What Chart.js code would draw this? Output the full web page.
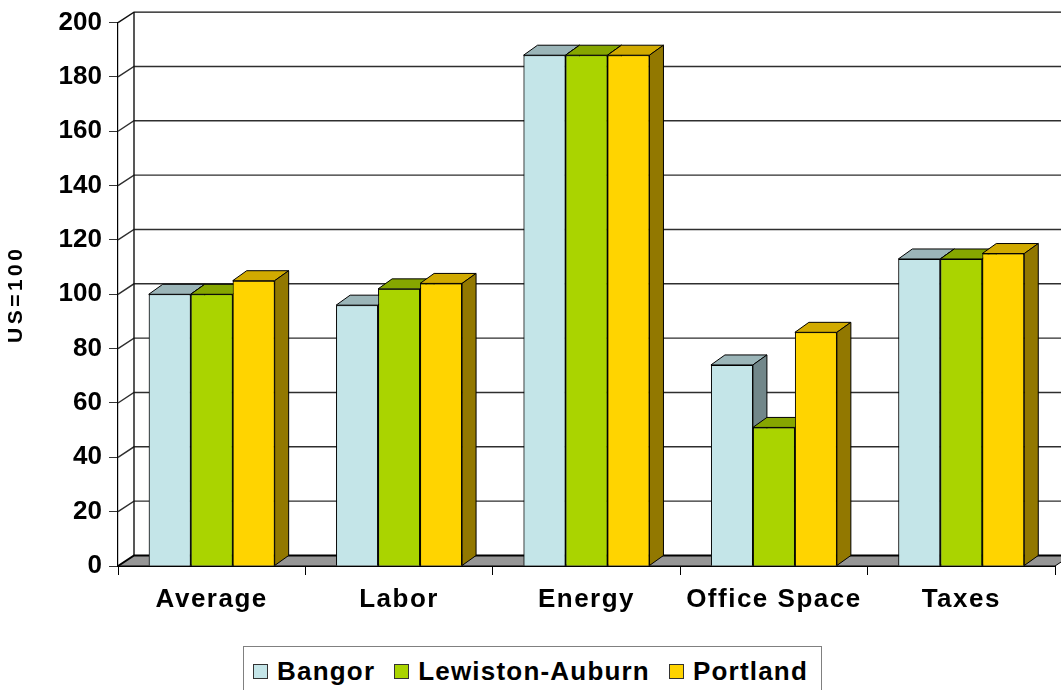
<!DOCTYPE html>
<html>
<head>
<meta charset="utf-8">
<script src="https://cdn.jsdelivr.net/npm/chart.js@4"></script>
<style>
  html, body { margin: 0; padding: 0; background: #fff; }
  #wrap { position: relative; width: 1061px; height: 690px; overflow: hidden; }
  #c { position: absolute; left: 0; top: 0; }
  #legend {
    position: absolute; left: 243px; top: 646px; width: 579px; height: 60px;
    border: 1.5px solid #808080; background: #fff; box-sizing: border-box;
    font-family: "Liberation Sans", Arial, sans-serif; font-weight: bold; font-size: 26px; color: #000;
    letter-spacing: 1.2px; white-space: nowrap; overflow: hidden;
    display: flex; align-items: flex-start; padding: 9px 0 0 9px;
  }
  .item { display: flex; align-items: center; margin-right: 19px; height: 30px; flex-shrink: 0; white-space: nowrap; }
  .item:last-child { margin-right: 0; }
  .sw { width: 13px; height: 13px; border: 1px solid #333; margin-right: 9px; flex-shrink: 0; }
</style>
</head>
<body>
<div id="wrap">
  <canvas id="c" width="1061" height="690"></canvas>
  <div id="legend"></div>
</div>
<script>
// ---- data ----
const categories = ['Average', 'Labor', 'Energy', 'Office Space', 'Taxes'];
const seriesNames = ['Bangor', 'Lewiston-Auburn', 'Portland'];
const bangor   = [100, 96, 188, 74, 113];
const lewiston = [100, 102, 188, 51, 113];
const portland = [105, 104, 188, 86, 115];
const yTicks = [0, 20, 40, 60, 80, 100, 120, 140, 160, 180, 200];
const yTitle = 'US=100';

// ---- styles ----
const frontColors = ['#C4E5E8', '#AAD400', '#FFD400'];
const topColors   = ['#9BB5B8', '#86A600', '#D1AA00'];
const sideColors  = ['#72878A', '#6A8400', '#927800'];
const FONT = '"Liberation Sans", Arial, sans-serif';
const BAR_D = {dx: 14, dy: -10};
const WALL_D = {dx: 16, dy: -10.5};

function poly(ctx, pts, fill, stroke, lw) {
  ctx.beginPath();
  ctx.moveTo(pts[0][0], pts[0][1]);
  for (let i = 1; i < pts.length; i++) ctx.lineTo(pts[i][0], pts[i][1]);
  ctx.closePath();
  if (fill) { ctx.fillStyle = fill; ctx.fill(); }
  if (stroke) { ctx.strokeStyle = stroke; ctx.lineWidth = lw || 1; ctx.stroke(); }
}

const wallsPlugin = {
  id: 'walls',
  beforeDraw(chart) {
    const xs = chart.scales.x, ys = chart.scales.y;
    if (!xs._lsPatched) {
      const o = xs.drawLabels;
      xs.drawLabels = function (a) { const c = this.ctx; c.save(); c.letterSpacing = '1.5px'; o.call(this, a); c.restore(); };
      xs._lsPatched = true;
    }
    if (!ys._lsPatched) {
      const o = ys.drawTitle;
      ys.drawTitle = function (a) { const c = this.ctx; c.save(); c.letterSpacing = '3.5px'; o.call(this, a); c.restore(); };
      ys._lsPatched = true;
    }
  },
  beforeDatasetsDraw(chart) {
    const ctx = chart.ctx, ys = chart.scales.y, ca = chart.chartArea;
    const W = chart.width;
    ctx.save();
    const L = ca.left, R = ca.right;
    const yTop = ys.getPixelForValue(yTicks[yTicks.length - 1]);
    const y0 = ys.getPixelForValue(0);
    yTicks.forEach(v => {
      if (v === 0) return;
      const yf = ys.getPixelForValue(v);
      ctx.beginPath();
      ctx.moveTo(L, yf);
      ctx.lineTo(L + WALL_D.dx, yf + WALL_D.dy);
      ctx.lineTo(W + 5, yf + WALL_D.dy);
      ctx.strokeStyle = v === 200 ? '#111' : '#2e2e2e';
      ctx.lineWidth = 1.4;
      ctx.stroke();
    });
    ctx.beginPath();
    ctx.moveTo(L + WALL_D.dx, yTop + WALL_D.dy);
    ctx.lineTo(L + WALL_D.dx, y0 + WALL_D.dy);
    ctx.strokeStyle = '#111'; ctx.lineWidth = 1.4; ctx.stroke();
    poly(ctx, [[L, y0], [L + WALL_D.dx, y0 + WALL_D.dy], [R + WALL_D.dx, y0 + WALL_D.dy], [R, y0]], '#969696');
    ctx.beginPath();
    ctx.moveTo(L, y0); ctx.lineTo(L + WALL_D.dx, y0 + WALL_D.dy); ctx.lineTo(W + 5, y0 + WALL_D.dy);
    ctx.strokeStyle = '#000'; ctx.lineWidth = 2; ctx.stroke();
    ctx.beginPath();
    ctx.moveTo(L, y0); ctx.lineTo(R, y0); ctx.lineTo(R + WALL_D.dx, y0 + WALL_D.dy);
    ctx.strokeStyle = '#000'; ctx.lineWidth = 1; ctx.stroke();
    ctx.restore();
  },
  afterDatasetsDraw(chart) {
    const ctx = chart.ctx;
    ctx.save();
    for (let d = 0; d < chart.data.datasets.length; d++) {
      const meta = chart.getDatasetMeta(d);
      meta.data.forEach(bar => {
        bar.draw(ctx);
        const p = bar.getProps(['x', 'y', 'base', 'width'], true);
        const l = p.x - p.width / 2, r = p.x + p.width / 2;
        const dx = BAR_D.dx, dy = BAR_D.dy;
        poly(ctx, [[l, p.y], [l + dx, p.y + dy], [r + dx, p.y + dy], [r, p.y]], topColors[d], '#000', 1);
        poly(ctx, [[r, p.y], [r + dx, p.y + dy], [r + dx, p.base + dy], [r, p.base]], sideColors[d], '#000', 1);
      });
    }
    ctx.restore();
  }
};

const seriesValues = [bangor, lewiston, portland];
const datasets = seriesNames.map((name, i) => ({
  label: name,
  data: seriesValues[i],
  backgroundColor: frontColors[i],
  borderColor: '#000',
  borderWidth: 1,
  categoryPercentage: 0.672,
  barPercentage: 1.0
}));

new Chart(document.getElementById('c'), {
  type: 'bar',
  data: { labels: categories, datasets },
  options: {
    responsive: false,
    animation: false,
    devicePixelRatio: 1,
    layout: { padding: { top: 20, right: 6, left: 0, bottom: 60 } },
    plugins: { legend: { display: false }, tooltip: { enabled: false } },
    scales: {
      x: {
        grid: { offset: true, drawOnChartArea: false, drawTicks: true, tickLength: 9, color: '#000', lineWidth: 1 },
        border: { display: true, color: '#000', width: 1 },
        ticks: { color: '#000', font: { family: FONT, size: 26, weight: 'bold' }, padding: 9, maxRotation: 0, autoSkip: false },
        afterFit(scale) { scale.height = 64; }
      },
      y: {
        min: 0, max: 200,
        afterBuildTicks(scale) { scale.ticks = yTicks.map(v => ({ value: v })); },
        grid: { drawOnChartArea: false, drawTicks: true, tickLength: 9, color: '#333', lineWidth: 1 },
        border: { display: true, color: '#000', width: 1.2 },
        ticks: { color: '#000', font: { family: FONT, size: 26, weight: 'bold' }, padding: 7 },
        title: { display: true, text: yTitle, color: '#000', font: { family: FONT, size: 21, weight: 'bold' }, padding: { top: 4, bottom: 0 } },
        afterFit(scale) { scale.width = 118; }
      }
    }
  },
  plugins: [wallsPlugin]
});

const lg = document.getElementById('legend');
seriesNames.forEach((name, i) => {
  const it = document.createElement('div'); it.className = 'item';
  const sw = document.createElement('div'); sw.className = 'sw'; sw.style.background = frontColors[i];
  const tx = document.createElement('span'); tx.textContent = name;
  it.appendChild(sw); it.appendChild(tx); lg.appendChild(it);
});
</script>
</body>
</html>
